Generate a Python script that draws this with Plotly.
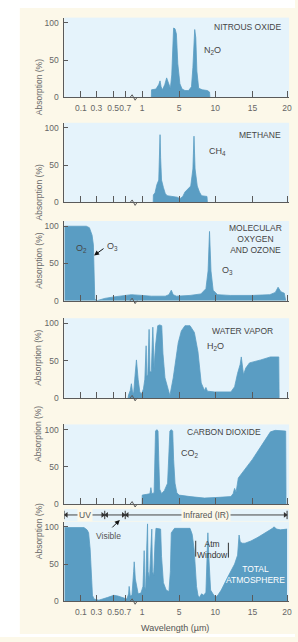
import numpy as np
import plotly.graph_objects as go

# ------------------------------------------------------------------ data
TICK_WL = [0.1, 0.3, 0.5, 0.7, 1, 5, 10, 15, 20]
TICK_LABELS = ["0.1", "0.3", "0.5", "0.7", "1", "5", "10", "15", "20"]
Y_TICKS = [0, 50, 100]

n2o_wl = [2.0, 2.02, 2.5, 2.8, 2.94, 3.05, 3.2, 3.45, 3.65, 3.85,
          4.05, 4.2, 4.3, 4.4, 4.55, 4.7, 4.85, 5.1, 5.4, 5.8,
          6.3, 6.7, 6.9, 7.05, 7.15, 7.3, 7.45, 7.7, 8.2, 8.9, 9.2, 9.25]
n2o_ab = [0, 10, 11, 17, 22, 14, 10, 17, 26, 18,
          12, 30, 80, 93, 92, 85, 45, 18, 11, 9,
          9, 14, 40, 85, 91, 80, 35, 12, 10, 9, 7, 0]

ch4_wl = [2.2, 2.22, 2.4, 2.6, 2.8, 2.88, 2.94, 3.0, 3.1, 3.3,
          3.5, 3.7, 4.2, 4.8, 5.1, 5.5, 5.8, 6.2, 6.6, 6.9,
          7.05, 7.2, 7.5, 7.8, 8.1, 8.85, 8.9]
ch4_ab = [0, 10, 13, 24, 30, 60, 91, 60, 30, 20,
          12, 9, 8, 7, 5, 8, 14, 18, 22, 45,
          89, 45, 22, 14, 9, 8, 0]

o3_wl = [0, 0.17, 0.21, 0.245, 0.262, 0.27, 0.28, 0.31, 0.4, 0.51,
         0.65, 0.81, 1.0, 2.0, 3.5, 3.9, 4.15, 4.35, 4.7, 6.5,
         8.0, 8.7, 9.0, 9.2, 9.4, 9.7, 10.3, 12, 15, 17.5,
         18.3, 18.7, 19.1, 19.6, 19.8]
o3_ab = [100, 100, 98, 88, 75, 40, 2, 0, 3, 5,
         6, 8, 7, 6, 6, 8, 14, 8, 6, 7,
         9, 16, 40, 93, 40, 14, 8, 7, 7, 8,
         11, 18, 12, 10, 0]

h2o_wl = [0.75, 0.76, 0.79, 0.81, 0.83, 0.85, 0.875, 0.9, 0.93, 0.96,
          0.99, 1.15, 1.3, 1.44, 1.5, 1.62, 1.76, 1.85, 2.0, 2.16,
          2.3, 2.45, 2.69, 2.9, 3.12, 3.25, 3.47, 3.8, 4.0, 4.36,
          4.9, 5.3, 5.8, 6.5, 7.1, 7.6, 7.8, 8.05, 8.5, 8.7,
          8.9, 9.9, 12.1, 12.6, 13.0, 13.35, 13.5, 13.65, 13.8, 14.1,
          14.6, 16.2, 17.6, 18.8, 18.85]
h2o_ab = [0, 4, 10, 19, 8, 6, 30, 51, 25, 8,
          5, 12, 25, 70, 30, 30, 92, 35, 35, 95,
          40, 70, 97, 98, 97, 60, 27, 10, 3, 27,
          74, 90, 97, 97, 88, 62, 38, 20, 10, 14,
          9, 8, 8, 15, 33, 45, 55, 40, 31, 40,
          47, 51, 55, 55, 0]

co2_wl = [1.0, 1.02, 1.5, 1.85, 1.95, 2.05, 2.3, 2.38, 2.45, 2.6,
          2.72, 2.8, 2.9, 3.1, 3.4, 3.75, 3.9, 4.0, 4.15, 4.3,
          4.4, 4.55, 4.75, 5.0, 6.5, 8.5, 10.5, 12.1, 12.4, 12.6,
          12.8, 13.0, 13.1, 15.0, 16.5, 17.6, 18.3, 19.8, 19.85]
co2_ab = [0, 12, 13, 14, 22, 14, 15, 60, 98, 100,
          98, 60, 20, 14, 18, 28, 60, 98, 100, 98,
          60, 28, 15, 12, 10, 8, 9, 10, 14, 21,
          16, 33, 35, 60, 82, 97, 99, 98, 0]

tot_wl = [0, 0.14, 0.18, 0.2, 0.22, 0.235, 0.25, 0.27, 0.33, 0.43,
          0.51, 0.58, 0.65, 0.73, 0.76, 0.77, 0.79, 0.82, 0.85, 0.86,
          0.88, 0.93, 0.98, 1.1, 1.2, 1.23, 1.28, 1.38, 1.5, 1.59,
          1.65, 1.8, 1.95, 2.05, 2.12, 2.25, 2.4, 2.5, 3.0, 3.1,
          3.3, 3.6, 3.9, 4.05, 4.15, 4.5, 6.5, 6.8, 7.07, 7.4,
          7.6, 7.8, 8.1, 8.4, 8.7, 8.85, 8.97, 9.1, 9.35, 9.8,
          10.1, 10.4, 10.8, 11.7, 12.6, 13.0, 13.2, 13.35, 13.6, 14.0,
          14.8, 15.8, 16.7, 17.5, 17.9, 18.1, 18.5, 19.05, 20]
tot_ab = [99, 99, 96, 92, 70, 25, 8, 3, 1.5, 5,
          8, 7, 5, 3, 10, 20, 7, 8, 40, 53,
          30, 10, 11, 20, 55, 68, 20, 15, 70, 104,
          40, 30, 70, 97, 40, 35, 80, 98, 97, 60,
          25, 15, 13, 40, 92, 98, 98, 90, 70, 20,
          8, 5, 10, 8, 12, 60, 92, 60, 15, 8,
          6, 9, 15, 33, 50, 62, 89, 80, 78, 78,
          81, 86, 91, 95, 98, 100, 97, 96, 97]

BAND_NAMES = ["UV", "Visible", "Infrared (IR)"]
BAND_EDGES = [0, 0.4, 0.7, 20]

# ------------------------------------------------- broken wavelength scale
SCALE_WL = [0, 0.1, 0.3, 0.5, 0.7, 1, 5, 10, 15, 20, 20.3]
SCALE_U = [0, 16.7, 32.3, 49.3, 61.5, 78.5, 116, 152.5, 190, 225, 227]


def sx(wl):
    return np.interp(np.asarray(wl, dtype=float), SCALE_WL, SCALE_U)


W, H = 298, 642
X0, X1 = 65, 292          # plot area left/right (px)
PX_PER_UNIT_Y = 0.75       # px per % absorption
YMAX = 107


def px(x):
    return x / W


def py(y):
    return 1 - y / H


def ux(u):                 # axis unit -> px
    return X0 + u


FILL = "#5a9dc3"
PLOT_BG = "#e5f3fb"
CREAM = "#fcf8e9"
AXIS = "#5a5a5a"
TXT = "#454545"
FONT = "Liberation Sans, Arial, sans-serif"
TICK_SIZE = 8.5

panels = [
    dict(wl=n2o_wl, ab=n2o_ab, zero=98, labels=True),
    dict(wl=ch4_wl, ab=ch4_ab, zero=204, labels=False),
    dict(wl=o3_wl, ab=o3_ab, zero=303, labels=False),
    dict(wl=h2o_wl, ab=h2o_ab, zero=401, labels=False),
    dict(wl=co2_wl, ab=co2_ab, zero=508, labels=False),
    dict(wl=tot_wl, ab=tot_ab, zero=606, labels=True),
]

fig = go.Figure()
layout = dict(
    width=W, height=H, margin=dict(l=0, r=0, t=0, b=0),
    paper_bgcolor=CREAM, plot_bgcolor=PLOT_BG, showlegend=False,
    font=dict(family=FONT, size=8.5, color="#666"),
)
shapes = []
annotations = []

# white borders around the cream card
shapes += [
    dict(type="rect", xref="paper", yref="paper", x0=0, x1=px(20), y0=0, y1=1,
         fillcolor="white", line=dict(width=0), layer="below"),
    dict(type="rect", xref="paper", yref="paper", x0=0, x1=1, y0=py(8), y1=1,
         fillcolor="white", line=dict(width=0), layer="below"),
    dict(type="rect", xref="paper", yref="paper", x0=0, x1=1, y0=0, y1=py(639),
         fillcolor="white", line=dict(width=0), layer="below"),
]

for i, p in enumerate(panels, start=1):
    sfx = "" if i == 1 else str(i)
    fig.add_trace(go.Scatter(
        x=sx(p["wl"]), y=p["ab"], mode="lines", fill="tozeroy",
        fillcolor=FILL, line=dict(color=FILL, width=0.8),
        xaxis="x" + sfx, yaxis="y" + sfx, hoverinfo="skip"))
    z = p["zero"]
    layout["xaxis" + sfx] = dict(
        domain=[px(X0), px(X1)], range=[0, 227], anchor="y" + sfx,
        tickvals=list(sx(TICK_WL)), ticktext=TICK_LABELS, tickangle=0,
        showticklabels=p["labels"], ticks="inside", ticklen=6,
        tickcolor=AXIS, tickwidth=1, showline=True, linecolor=AXIS,
        linewidth=1, showgrid=False, zeroline=False, fixedrange=True,
        ticklabelstandoff=3,
        tickfont=dict(size=TICK_SIZE, color="#666"))
    layout["yaxis" + sfx] = dict(
        domain=[py(z), py(z - YMAX * PX_PER_UNIT_Y)], range=[0, YMAX],
        anchor="x" + sfx, tickvals=Y_TICKS, ticks="inside", ticklen=4,
        tickcolor=AXIS, tickwidth=1, showline=True, linecolor=AXIS,
        linewidth=1, showgrid=False, zeroline=False, fixedrange=True,
        ticklabelstandoff=3, tickfont=dict(size=TICK_SIZE, color="#666"))
    # axis-break symbol
    bx = ux(float(sx(0.85)))
    shapes.append(dict(
        type="path", xref="paper", yref="paper",
        path=(f"M {px(bx-3.5)},{py(z)} L {px(bx-1.5)},{py(z-2.5)} "
              f"L {px(bx+1.5)},{py(z+3)} L {px(bx+3.5)},{py(z)}"),
        line=dict(color=AXIS, width=1)))
    annotations.append(dict(
        text="Absorption (%)", x=px(32), y=py(z - 40), xref="paper",
        yref="paper", showarrow=False, textangle=-90,
        font=dict(size=8.5, color="#6a6a6a")))


def label(text, x, y, size=8.5, color=TXT, xanchor="center", align="center"):
    annotations.append(dict(text=text, x=px(x), y=py(y), xref="paper",
                            yref="paper", showarrow=False, xanchor=xanchor,
                            yanchor="middle", align=align,
                            font=dict(size=size, color=color)))


# panel titles and formula labels
label("NITROUS OXIDE", 286, 27, xanchor="right")
label("N<sub>2</sub>O", 215, 51, size=9)
label("METHANE", 286, 136, xanchor="right")
label("CH<sub>4</sub>", 220, 153, size=9)
label("MOLECULAR<br>OXYGEN<br>AND OZONE", 258, 240.5)
label("O<sub>3</sub>", 230, 273, size=9)
label("O<sub>2</sub>", 82, 250, size=9)
label("O<sub>3</sub>", 114, 248, size=9)
label("WATER VAPOR", 245, 334)
label("H<sub>2</sub>O", 218, 349, size=9)
label("CARBON DIOXIDE", 226, 435)
label("CO<sub>2</sub>", 192, 457, size=9)
label("TOTAL<br>ATMOSPHERE", 258, 579, color="white")
label("Atm<br>Window", 215, 553.5, color="#333")
label("Visible", 110, 540, color="#555")
label("Wavelength (µm)", 177, 633, size=9, color="#555")

# arrows
annotations.append(dict(x=px(95), y=py(257.5), xref="paper", yref="paper",
                        ax=11, ay=-8, text="", showarrow=True, arrowhead=2,
                        arrowsize=1, arrowwidth=1, arrowcolor="#111"))
annotations.append(dict(x=px(121), y=py(524), xref="paper", yref="paper",
                        ax=-9, ay=9, text="", showarrow=True, arrowhead=2,
                        arrowsize=1, arrowwidth=1, arrowcolor="#111"))

# atmospheric window brackets
shapes += [
    dict(type="line", xref="paper", yref="paper", x0=px(197.7), x1=px(197.7),
         y0=py(545), y1=py(561), line=dict(color="#333", width=1)),
    dict(type="line", xref="paper", yref="paper", x0=px(230.7), x1=px(230.7),
         y0=py(547), y1=py(562), line=dict(color="#333", width=1)),
]

# spectral band strip (UV / Visible / IR)
layout["xaxis7"] = dict(domain=[px(X0), px(X1)], range=[0, 227], anchor="y7",
                        visible=False, fixedrange=True)
layout["yaxis7"] = dict(domain=[py(525), py(513)], range=[0, 1], anchor="x7",
                        visible=False, fixedrange=True)
edges_u = sx(BAND_EDGES)
lx, ly = [], []
for a, b in zip(edges_u[:-1], edges_u[1:]):
    lx += [a, b, None]
    ly += [0.5, 0.5, None]
fig.add_trace(go.Scatter(x=lx, y=ly, mode="lines", xaxis="x7", yaxis="y7",
                         line=dict(color="#444", width=1), hoverinfo="skip"))
fig.add_trace(go.Scatter(x=list(edges_u), y=[0.5] * len(edges_u),
                         mode="markers", xaxis="x7", yaxis="y7",
                         marker=dict(symbol="line-ns", size=6,
                                     line=dict(color="#333", width=1)),
                         hoverinfo="skip"))
fig.add_trace(go.Scatter(x=list(edges_u[:-1] + 2), y=[0.5] * 3,
                         mode="markers", xaxis="x7", yaxis="y7",
                         marker=dict(symbol="triangle-left", size=5,
                                     color="#333"), hoverinfo="skip"))
fig.add_trace(go.Scatter(x=list(edges_u[1:] - 2), y=[0.5] * 3,
                         mode="markers", xaxis="x7", yaxis="y7",
                         marker=dict(symbol="triangle-right", size=5,
                                     color="#333"), hoverinfo="skip"))
for name, a, b in zip(BAND_NAMES, edges_u[:-1], edges_u[1:]):
    if name == "Visible":
        continue
    annotations.append(dict(text=name, x=(a + b) / 2, y=0.5, xref="x7",
                            yref="y7", showarrow=False, bgcolor=CREAM,
                            borderpad=1, font=dict(size=8.5, color="#555")))

layout["shapes"] = shapes
layout["annotations"] = annotations
fig.update_layout(**layout)
fig.write_html(
    "out.html",
    config={"displayModeBar": False},
    post_script="document.body.style.margin='0';document.body.style.padding='0';",
)
